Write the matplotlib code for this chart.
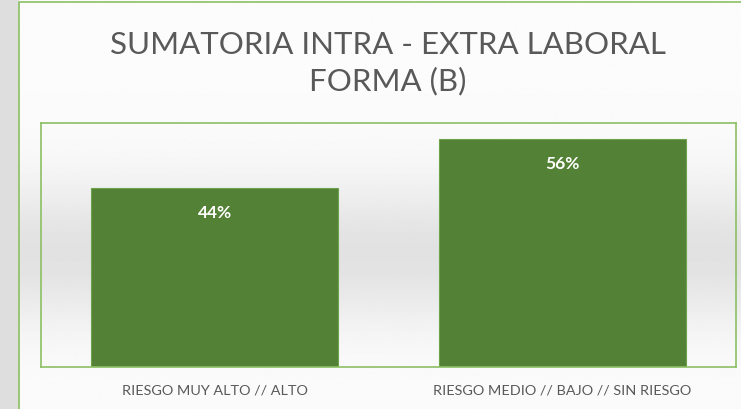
import numpy as np
import matplotlib.pyplot as plt
from matplotlib.patches import Rectangle

categories = ["RIESGO MUY ALTO // ALTO", "RIESGO MEDIO // BAJO // SIN RIESGO"]
values = [0.44, 0.56]
labels = ["44%", "56%"]
title = "SUMATORIA INTRA - EXTRA LABORAL\nFORMA (B)"


def main():
    plt.rcParams["font.family"] = ["Lato", "DejaVu Sans"]
    W, H = 741, 410
    fig = plt.figure(figsize=(W / 100, H / 100), dpi=100)
    fig.patch.set_facecolor("white")

    # background panel with soft gradient (darker band behind the bars)
    bg = fig.add_axes([0, 0, 1, 1], zorder=-2)
    grad = np.linspace(0, 1, 256)
    shade = 0.985 - 0.10 * np.exp(-((grad - 0.62) ** 2) / 0.03)
    bg.imshow(shade[:, None], aspect="auto", cmap="gray", vmin=0, vmax=1,
              extent=[0, 1, 0, 1], transform=bg.transAxes)
    bg.add_patch(Rectangle((0, 0), 18 / W, 1, transform=bg.transAxes,
                           color="#dedede", zorder=3))
    bg.plot([19 / W, 19 / W, 1], [0, 1 - 3 / H, 1 - 3 / H], color="#8cc063",
            lw=1.2, transform=bg.transAxes, zorder=4)
    bg.set_axis_off()

    ax = fig.add_axes([41 / W, 42 / H, 695 / W, 244 / H])
    ax.set_facecolor("none")
    x = np.arange(len(categories))
    ax.bar(x, values, width=0.71, color="#538135", edgecolor="#6da34a", lw=0.8)
    for xi, v, lab in zip(x, values, labels):
        ax.annotate(lab, (xi, v), xytext=(0, -17), textcoords="offset points",
                    ha="center", va="center", color="white", fontsize=12.5,
                    fontweight="bold")
    ax.set_xlim(-0.5, 1.5)
    ax.set_ylim(0, 0.6)
    ax.set_yticks([])
    ax.set_xticks(x)
    ax.set_xticklabels(categories, fontsize=10.4, color="#595959")
    ax.tick_params(axis="x", length=0, pad=12)
    for sp in ax.spines.values():
        sp.set_color("#8cc063")
        sp.set_linewidth(1.2)

    fig.text(388 / W, 1 - 63 / H, title, ha="center", va="center",
             fontsize=22.5, color="#595959", linespacing=1.32)

    fig.savefig("out.png", dpi=100)


if __name__ == "__main__":
    main()
